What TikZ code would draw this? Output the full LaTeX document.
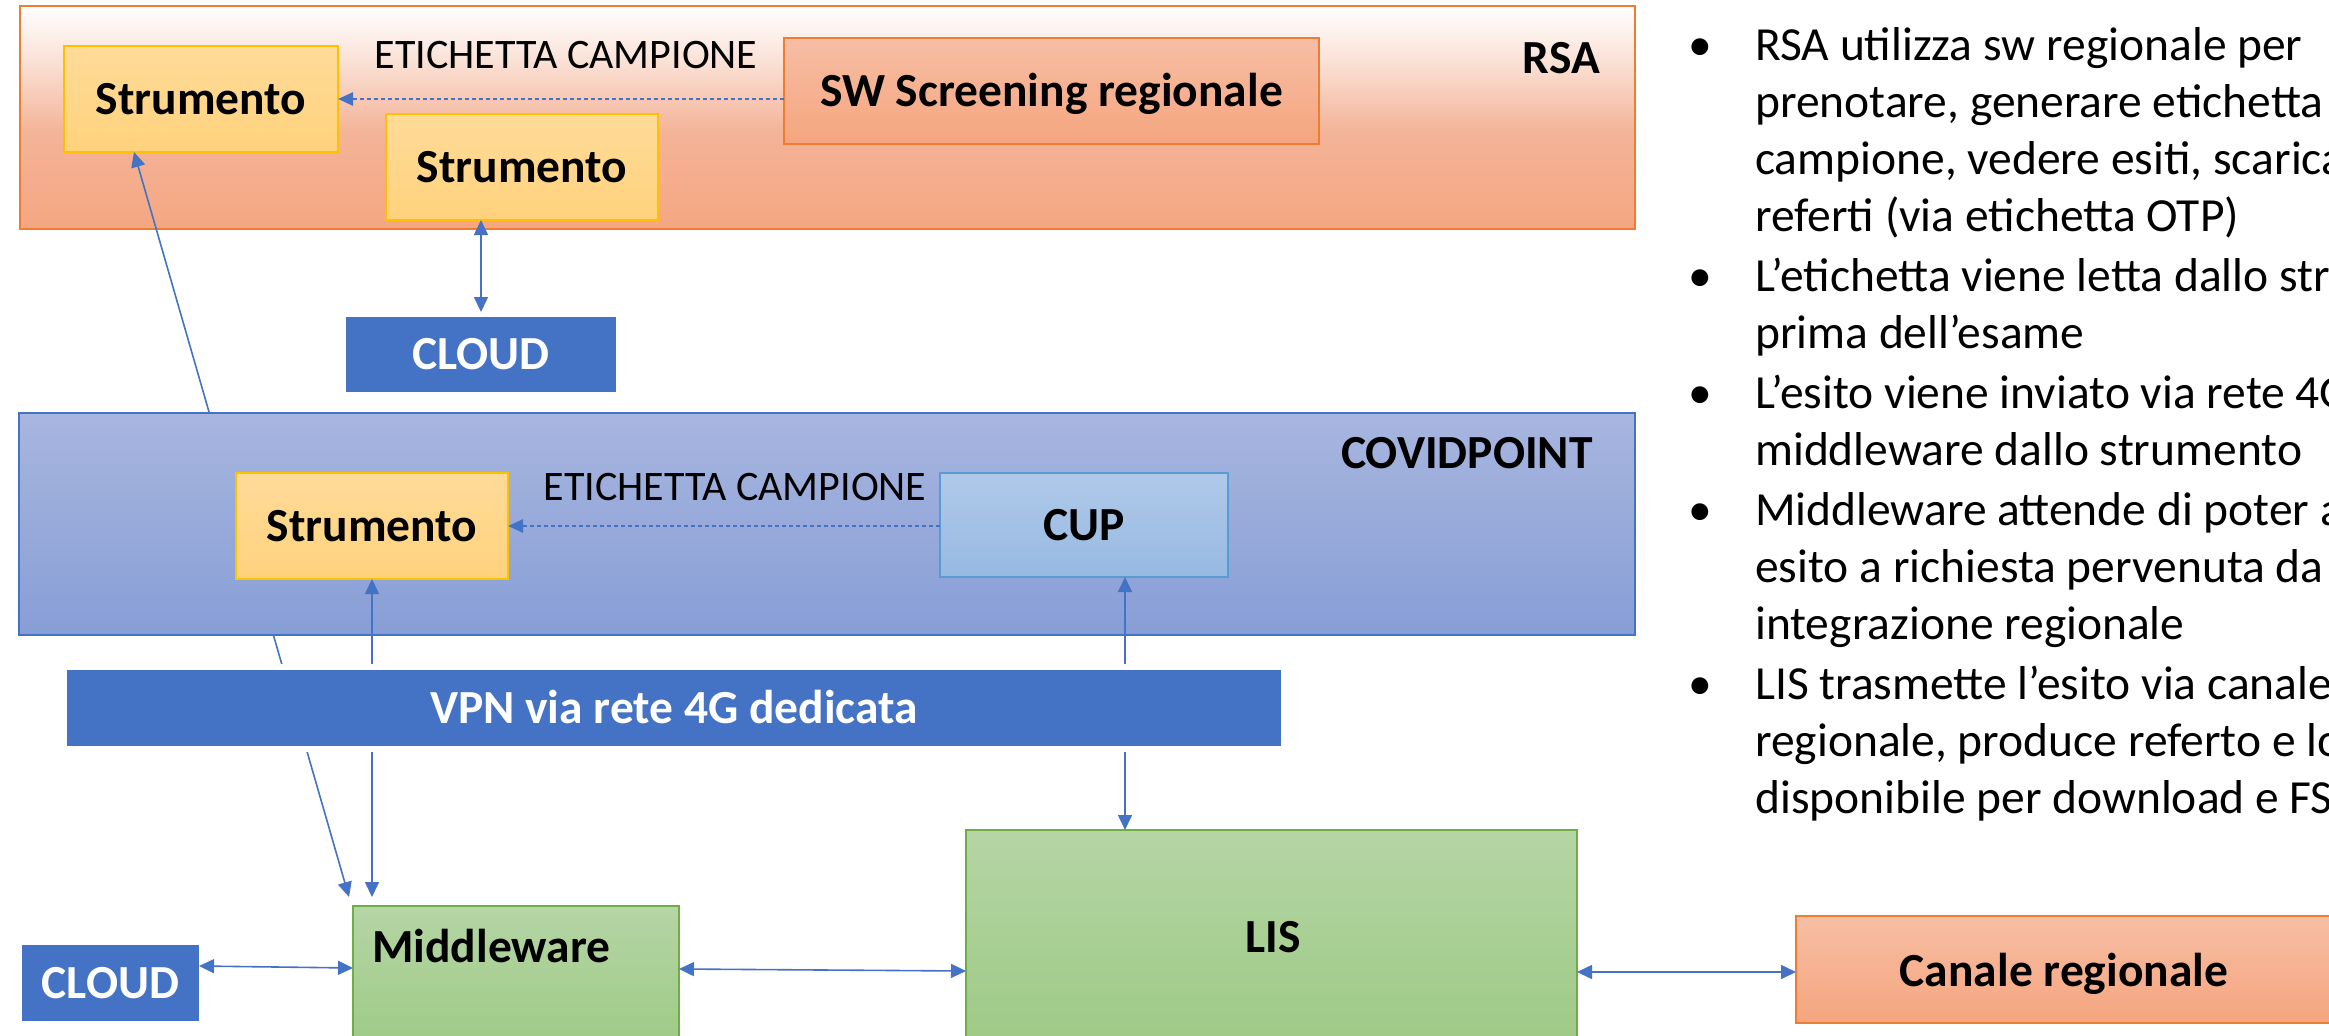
\documentclass[tikz,border=0pt]{standalone}
\usepackage{fontspec}
\setmainfont{Carlito}
\usetikzlibrary{arrows.meta,calc}

\definecolor{accBlue}{HTML}{4472C4}
\definecolor{orangeLine}{HTML}{ED7D31}
\definecolor{rsaLo}{HTML}{F5A682}
\definecolor{rsaMid}{HTML}{F4B498}
\definecolor{rsaHi}{HTML}{FAE2D7}
\definecolor{swTop}{HTML}{F7BEA4}
\definecolor{swBot}{HTML}{F5A57F}
\definecolor{strTop}{HTML}{FFDB99}
\definecolor{strBot}{HTML}{FFD27C}
\definecolor{strLine}{HTML}{FFC000}
\definecolor{cvTop}{HTML}{A8B6DF}
\definecolor{cvBot}{HTML}{879ED6}
\definecolor{cupTop}{HTML}{B0C9E9}
\definecolor{cupBot}{HTML}{96B9E2}
\definecolor{cupLine}{HTML}{5B9BD5}
\definecolor{grTop}{HTML}{B5D5A5}
\definecolor{grBot}{HTML}{9CC983}
\definecolor{grLine}{HTML}{70AD47}

% soft white-to-salmon fade of the RSA area
\pgfdeclareverticalshading{rsafade}{100bp}{color(0bp)=(rsaLo); color(25bp)=(rsaLo); color(47bp)=(rsaMid); color(63bp)=(rsaHi); color(75bp)=(white); color(100bp)=(white)}

\newcommand\boldlbl{\fontsize{47.5}{57}\selectfont\bfseries}
\newcommand\tagfont{\fontsize{42}{50}\selectfont}
\newcommand\notefont{\fontsize{47.5}{57}\selectfont}

\begin{document}
\begin{tikzpicture}[x=1pt,y=-1pt,
  box/.style={rectangle, inner sep=0pt, outer sep=0pt, line width=2pt,
    font=\boldlbl, text height=30.6pt, text depth=0pt},
  strbox/.style={box, draw=strLine, top color=strTop, bottom color=strBot},
  swbox/.style={box, draw=orangeLine, top color=swTop, bottom color=swBot},
  cupbox/.style={box, draw=cupLine, line width=1.5pt, top color=cupTop, bottom color=cupBot},
  greenbox/.style={box, draw=grLine, line width=1.5pt, top color=grTop, bottom color=grBot},
  cloudbox/.style={box, fill=accBlue, text=white},
  lbl/.style={font=\boldlbl, inner sep=0pt},
  tag/.style={font=\tagfont, inner sep=0pt},
  note/.style={font=\notefont, align=left, inner sep=0pt, anchor=north west},
  dot/.style={font=\notefont, inner sep=0pt, anchor=base},
  link/.style={draw=accBlue, line width=1.6pt,
    {Triangle[length=15pt,width=14pt]}-{Triangle[length=15pt,width=14pt]}},
  feed/.style={draw=accBlue, line width=2.5pt, dash pattern=on 4pt off 3pt,
    -{Triangle[length=15pt,width=13pt]}}
]
\useasboundingbox (0,0) rectangle (2329,1036);
\clip (0,0) rectangle (2329,1036);

% ---- RSA area ----
\node[box, draw=orangeLine, shade, shading=rsafade,
  minimum width=1615pt, minimum height=223pt] (rsa) at (827.5,117.5) {};
\node[strbox, minimum width=274pt, minimum height=106pt] (str1) at (201,99) {Strumento};
\node[strbox, minimum width=272pt, minimum height=106pt] (str2) at (522,167) {Strumento};
\node[swbox, minimum width=535pt, minimum height=106pt] (sw) at (1051.5,91) {SW Screening regionale};
\node[tag, anchor=base] (tagA) at (566,68) {ETICHETTA CAMPIONE};
\node[lbl, anchor=base east] (rsaName) at (1600,73) {RSA};
\draw[feed] (sw.west |- str1.east) -- (str1.east);

\node[cloudbox, minimum width=270pt, minimum height=75pt] (cloudA) at (481,354.5) {CLOUD};
\draw[link, shorten <=5pt] (cloudA.north) -- (cloudA.north |- str2.south);

% ---- laboratory side ----
\node[greenbox, minimum width=326pt, minimum height=154pt] (mw) at (516,983) {};
\node[lbl, anchor=base west] (mwName) at (372,962) {Middleware};
\node[greenbox, minimum width=611pt, minimum height=230pt] (lis) at (1271.5,945) {};
\node[lbl, anchor=base] (lisName) at (1273,952) {LIS};
\node[cloudbox, minimum width=177pt, minimum height=76pt] (cloudB) at (110.5,983) {CLOUD};
\node[swbox, minimum width=549pt, minimum height=107pt] (canale) at (2070.5,969.5) {};
\node[lbl, anchor=base] (canaleName) at (2064,986) {Canale regionale};

% long link from the middleware to the RSA instrument (runs behind COVIDPOINT)
\coordinate (diagTop) at ($(str1.south west)+(70,0)$);
\coordinate (diagBot) at ($(mw.north west)+(-4,-9)$);
\draw[link] (diagBot) -- (diagTop);

% ---- COVIDPOINT area ----
\node[box, draw=accBlue, top color=cvTop, bottom color=cvBot,
  minimum width=1616pt, minimum height=222pt] (covid) at (827,524) {};
\node[lbl, anchor=base east] (covidName) at (1593,468) {COVIDPOINT};
\node[strbox, minimum width=272pt, minimum height=106pt] (str3) at (372,526) {Strumento};
\node[cupbox, minimum width=288pt, minimum height=104pt] (cup) at (1084,525) {CUP};
\node[tag, anchor=base] (tagB) at (735,500) {ETICHETTA CAMPIONE};
\draw[feed] (cup.west |- str3.east) -- (str3.east);

% vertical links crossing the VPN band
\draw[link, shorten <=9pt] (str3.south |- mw.north) -- (str3.south);
\coordinate (cupFoot) at ($(cup.south)+(41,0)$);
\draw[link] (cupFoot |- lis.north) -- (cupFoot);

\node[cloudbox, draw=white, line width=6pt,
  minimum width=1220pt, minimum height=82pt] (vpn) at (674,708) {VPN via rete 4G dedicata};

% horizontal links
\draw[link] ([yshift=17pt]cloudB.east) -- ([yshift=15pt]mw.west);
\draw[link] ([yshift=14pt]mw.east) -- ([yshift=-26pt]lis.west);
\draw[link] ([yshift=-27pt]lis.east) -- ([yshift=-2.5pt]canale.west);

% ---- notes (each block hangs from the top of its first line: strut height 39.9pt) ----
\node[dot] (b1) at (1700,60) {•};
\node[note] (n1) at (1755,20.1)
  {\strut RSA utilizza sw regionale per\\prenotare, generare etichetta\\campione, vedere esiti, scaricare\\referti (via etichetta OTP)};
\node[dot] (b2) at (1700,291) {•};
\node[note] (n2) at (1755,251.1)
  {\strut L’etichetta viene letta dallo strumento\\prima dell’esame};
\node[dot] (b3) at (1700,408) {•};
\node[note] (n3) at (1755,368.1)
  {\strut L’esito viene inviato via rete 4G\\middleware dallo strumento};
\node[dot] (b4) at (1700,525) {•};
\node[note] (n4) at (1755,485.1)
  {\strut Middleware attende di poter a\\esito a richiesta pervenuta da\\integrazione regionale};
\node[dot] (b5) at (1700,699) {•};
\node[note] (n5) at (1755,659.1)
  {\strut LIS trasmette l’esito via canale\\regionale, produce referto e lo\\disponibile per download e FS};
\end{tikzpicture}
\end{document}
